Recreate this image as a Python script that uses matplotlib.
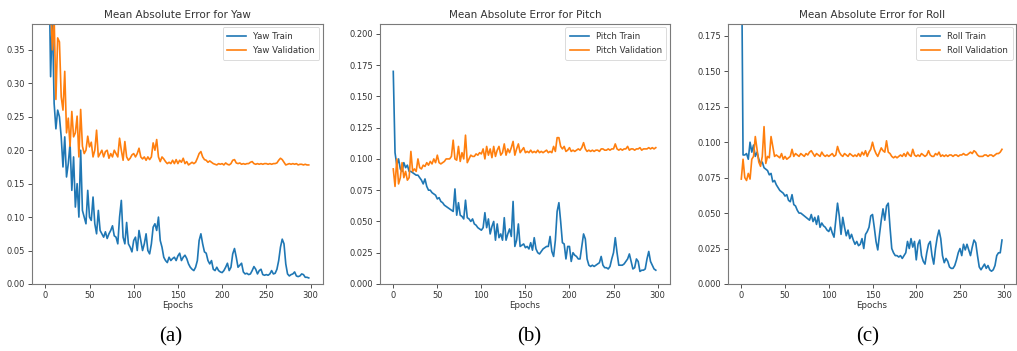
import matplotlib
matplotlib.use("Agg")
import matplotlib.pyplot as plt
from matplotlib.ticker import FormatStrFormatter, MultipleLocator

epochs = list(range(0, 300, 2))

yaw_train = [
    1.0, 0.8, 0.5, 0.31, 0.40, 0.27, 0.232, 0.26, 0.25, 0.22,
    0.175, 0.22, 0.16, 0.18, 0.21, 0.14, 0.19, 0.115, 0.15, 0.10,
    0.20, 0.11, 0.10, 0.09, 0.14, 0.10, 0.095, 0.13, 0.09, 0.075,
    0.11, 0.08, 0.075, 0.07, 0.078, 0.068, 0.075, 0.08, 0.087, 0.072,
    0.07, 0.06, 0.10, 0.125, 0.07, 0.06, 0.092, 0.06, 0.055, 0.048,
    0.065, 0.07, 0.05, 0.08, 0.065, 0.05, 0.06, 0.075, 0.05, 0.045,
    0.06, 0.085, 0.09, 0.08, 0.10, 0.065, 0.055, 0.04, 0.035, 0.032,
    0.04, 0.035, 0.038, 0.04, 0.035, 0.042, 0.046, 0.035, 0.04, 0.043,
    0.038, 0.03, 0.025, 0.022, 0.02, 0.025, 0.035, 0.065, 0.075, 0.06,
    0.048, 0.046, 0.035, 0.03, 0.035, 0.022, 0.02, 0.025, 0.02, 0.018,
    0.017, 0.02, 0.025, 0.031, 0.02, 0.025, 0.045, 0.053, 0.04, 0.025,
    0.028, 0.031, 0.018, 0.015, 0.016, 0.014, 0.015, 0.02, 0.026, 0.022,
    0.015, 0.02, 0.022, 0.014, 0.013, 0.014, 0.013, 0.015, 0.02, 0.015,
    0.016, 0.022, 0.035, 0.055, 0.067, 0.06, 0.03, 0.015, 0.012, 0.014,
    0.015, 0.018, 0.012, 0.011, 0.012, 0.015, 0.014, 0.01, 0.01, 0.009,
]
yaw_val = [
    1.0, 0.8, 0.55, 0.42, 0.35, 0.40, 0.276, 0.368, 0.362, 0.28,
    0.26, 0.318, 0.226, 0.248, 0.206, 0.258, 0.22, 0.226, 0.251, 0.19,
    0.261, 0.206, 0.195, 0.20, 0.221, 0.205, 0.212, 0.19, 0.20, 0.23,
    0.19, 0.195, 0.20, 0.19, 0.198, 0.20, 0.188, 0.195, 0.19, 0.20,
    0.195, 0.19, 0.218, 0.20, 0.185, 0.213, 0.19, 0.185, 0.188, 0.193,
    0.195, 0.19, 0.195, 0.203, 0.19, 0.187, 0.19, 0.185, 0.19, 0.186,
    0.19, 0.211, 0.20, 0.216, 0.19, 0.183, 0.19, 0.187, 0.183, 0.18,
    0.182, 0.18, 0.185, 0.18, 0.186, 0.18, 0.185, 0.182, 0.188, 0.18,
    0.183, 0.178, 0.18, 0.182, 0.18, 0.182, 0.188, 0.195, 0.198, 0.19,
    0.186, 0.185, 0.182, 0.184, 0.182, 0.18, 0.179, 0.178, 0.18, 0.179,
    0.18, 0.178, 0.181, 0.179, 0.178, 0.18, 0.185, 0.186, 0.181, 0.18,
    0.181, 0.179, 0.18, 0.179, 0.18, 0.18, 0.182, 0.183, 0.18, 0.179,
    0.18, 0.179, 0.18, 0.179, 0.18, 0.18, 0.179, 0.18, 0.179, 0.18,
    0.18, 0.181, 0.185, 0.188, 0.186, 0.182, 0.178, 0.179, 0.18, 0.179,
    0.18, 0.179, 0.18, 0.178, 0.179, 0.179, 0.178, 0.179, 0.178, 0.178,
]

pitch_train = [
    0.17, 0.105, 0.095, 0.1, 0.092, 0.09, 0.097, 0.093, 0.095, 0.09,
    0.09, 0.089, 0.088, 0.087, 0.087, 0.085, 0.083, 0.08, 0.084, 0.078,
    0.075, 0.075, 0.073, 0.072, 0.071, 0.068, 0.069, 0.066, 0.065, 0.063,
    0.062, 0.061, 0.06, 0.059, 0.058, 0.076, 0.055, 0.065, 0.055, 0.054,
    0.052, 0.067, 0.053, 0.052, 0.05, 0.052, 0.048, 0.047, 0.045, 0.044,
    0.043, 0.045, 0.057, 0.045, 0.052, 0.04, 0.046, 0.05, 0.035, 0.048,
    0.037, 0.04, 0.035, 0.053, 0.035, 0.04, 0.044, 0.038, 0.066, 0.03,
    0.035, 0.048, 0.03, 0.031, 0.032, 0.029, 0.03, 0.028, 0.033, 0.027,
    0.037, 0.028, 0.025, 0.024, 0.026, 0.028, 0.029, 0.03, 0.03, 0.038,
    0.026, 0.022, 0.035, 0.058, 0.065, 0.05, 0.033, 0.032, 0.02, 0.03,
    0.03, 0.018, 0.025, 0.023, 0.022, 0.02, 0.02, 0.03, 0.04, 0.036,
    0.02, 0.015, 0.014, 0.015, 0.014, 0.015, 0.016, 0.017, 0.022, 0.015,
    0.013, 0.013, 0.012, 0.014, 0.02, 0.025, 0.037, 0.025, 0.015, 0.015,
    0.015, 0.016, 0.018, 0.02, 0.024, 0.018, 0.012, 0.013, 0.02, 0.018,
    0.01, 0.011, 0.011, 0.012, 0.02, 0.026, 0.018, 0.015, 0.012, 0.011,
]
pitch_val = [
    0.092, 0.078, 0.1, 0.08, 0.085, 0.097, 0.085, 0.09, 0.083, 0.085,
    0.106, 0.09, 0.092, 0.09, 0.1, 0.093, 0.092, 0.095, 0.094, 0.097,
    0.095, 0.098, 0.096, 0.1, 0.097, 0.103, 0.097, 0.096, 0.097, 0.098,
    0.1, 0.1, 0.1, 0.102, 0.115, 0.1, 0.099, 0.11, 0.098, 0.105,
    0.1, 0.119, 0.097, 0.1, 0.103, 0.102, 0.102, 0.104, 0.103, 0.105,
    0.104, 0.108, 0.1, 0.11, 0.103, 0.108, 0.101, 0.11, 0.102, 0.107,
    0.11, 0.103, 0.105, 0.112, 0.103, 0.108, 0.105, 0.109, 0.114, 0.103,
    0.108, 0.112, 0.105, 0.107, 0.109, 0.105, 0.106, 0.105, 0.107, 0.105,
    0.106, 0.105, 0.107, 0.105, 0.106, 0.105, 0.106, 0.107, 0.105, 0.106,
    0.105, 0.11, 0.106, 0.117, 0.117, 0.11, 0.108, 0.11, 0.106, 0.107,
    0.109, 0.106, 0.107, 0.106, 0.107, 0.108, 0.107, 0.109, 0.113, 0.108,
    0.106, 0.107, 0.106, 0.107, 0.106, 0.107, 0.107, 0.106, 0.108, 0.108,
    0.107, 0.107, 0.108, 0.107, 0.108, 0.108, 0.112, 0.108, 0.107, 0.108,
    0.107, 0.108, 0.108, 0.11, 0.107, 0.108, 0.108, 0.107, 0.108, 0.108,
    0.109, 0.107, 0.108, 0.108, 0.108, 0.109, 0.108, 0.109, 0.108, 0.109,
]

roll_train = [
    0.26, 0.091, 0.091, 0.092, 0.088, 0.1, 0.093, 0.098, 0.09, 0.093,
    0.088, 0.085, 0.086, 0.082, 0.081, 0.08, 0.077, 0.078, 0.072, 0.073,
    0.07, 0.068, 0.066, 0.065, 0.064, 0.062, 0.063, 0.059, 0.058, 0.063,
    0.056, 0.055, 0.052, 0.05, 0.05, 0.049, 0.048, 0.047, 0.046, 0.045,
    0.049, 0.044, 0.047, 0.042, 0.048, 0.04, 0.043, 0.041, 0.04, 0.038,
    0.037, 0.04, 0.036, 0.033, 0.045, 0.057, 0.048, 0.035, 0.047, 0.04,
    0.034, 0.038, 0.032, 0.035, 0.031, 0.028, 0.03, 0.027, 0.028, 0.032,
    0.025, 0.035, 0.037, 0.04, 0.048, 0.049, 0.04, 0.03, 0.024, 0.035,
    0.045, 0.053, 0.045, 0.055, 0.057, 0.04, 0.025, 0.022, 0.02, 0.02,
    0.019, 0.02, 0.018, 0.02, 0.022, 0.03, 0.025, 0.032, 0.026, 0.03,
    0.017, 0.028, 0.031, 0.02, 0.016, 0.014, 0.022, 0.028, 0.03, 0.02,
    0.014, 0.025, 0.033, 0.038, 0.032, 0.02, 0.015, 0.018, 0.016, 0.012,
    0.011, 0.011, 0.013, 0.017, 0.022, 0.025, 0.02, 0.028, 0.024, 0.028,
    0.024, 0.02, 0.026, 0.031, 0.029, 0.02, 0.012, 0.01, 0.012, 0.014,
    0.011, 0.013, 0.01, 0.009, 0.01, 0.013, 0.02, 0.022, 0.022, 0.031,
]
roll_val = [
    0.074, 0.088, 0.075, 0.073, 0.078, 0.074, 0.088, 0.09, 0.104, 0.095,
    0.086, 0.083, 0.09, 0.111, 0.085, 0.09, 0.089, 0.104, 0.097, 0.09,
    0.091, 0.09, 0.089, 0.092, 0.088, 0.09, 0.088, 0.089, 0.09, 0.095,
    0.09, 0.092, 0.091, 0.09, 0.092, 0.091, 0.09, 0.092, 0.091, 0.093,
    0.094, 0.092, 0.09, 0.092, 0.091, 0.09, 0.093, 0.091, 0.09, 0.091,
    0.09, 0.091, 0.092, 0.09, 0.091, 0.097, 0.093, 0.091, 0.09, 0.092,
    0.091, 0.09, 0.092, 0.091, 0.09, 0.091, 0.09, 0.092, 0.09, 0.093,
    0.091, 0.094, 0.09, 0.093, 0.095, 0.1, 0.095, 0.092, 0.09, 0.093,
    0.096, 0.094, 0.093, 0.101, 0.093, 0.092, 0.09, 0.089, 0.09, 0.089,
    0.09, 0.091, 0.09, 0.092, 0.09, 0.093, 0.091, 0.09, 0.095, 0.091,
    0.09, 0.091, 0.09, 0.092, 0.091, 0.09, 0.091, 0.094, 0.091, 0.09,
    0.09, 0.092, 0.091, 0.093, 0.09, 0.091, 0.09, 0.091, 0.09, 0.091,
    0.091, 0.09, 0.091, 0.091, 0.09, 0.091, 0.091, 0.092, 0.091, 0.091,
    0.092, 0.093, 0.092, 0.094, 0.093, 0.091, 0.09, 0.09, 0.09, 0.091,
    0.091, 0.09, 0.091, 0.091, 0.09, 0.091, 0.092, 0.092, 0.093, 0.095,
]

panels = [
    ("Yaw", yaw_train, yaw_val, 0.389, 0.05, "%.2f", "(a)"),
    ("Pitch", pitch_train, pitch_val, 0.208, 0.025, "%.3f", "(b)"),
    ("Roll", roll_train, roll_val, 0.1835, 0.025, "%.3f", "(c)"),
]

fig = plt.figure(figsize=(10.17, 3.51), dpi=100)
lefts = [0.0315, 0.3737, 0.7160]
widths = [0.286, 0.285, 0.283]
caption_x = [0.168, 0.520, 0.853]
text_col = "#333333"
spine_col = "#7a7a7a"

for i, (name, tr, va, ytop, ystep, fmt, cap) in enumerate(panels):
    ax = fig.add_axes([lefts[i], 0.191, widths[i], 0.741])
    ax.plot(epochs, tr, color="#1f77b4", lw=1.2, label=f"{name} Train")
    ax.plot(epochs, va, color="#ff7f0e", lw=1.2, label=f"{name} Validation")
    ax.set_xlim(-15, 314)
    ax.set_ylim(0, ytop)
    ax.yaxis.set_major_locator(MultipleLocator(ystep))
    ax.yaxis.set_major_formatter(FormatStrFormatter(fmt))
    ax.xaxis.set_major_locator(MultipleLocator(50))
    ax.tick_params(labelsize=6, length=3, pad=2, colors=text_col, width=0.6)
    for s in ax.spines.values():
        s.set_color(spine_col)
        s.set_linewidth(0.8)
    ax.set_title(f"Mean Absolute Error for {name}", fontsize=7.5, color=text_col, pad=4)
    ax.set_xlabel("Epochs", fontsize=6.2, color=text_col, labelpad=1)
    leg = ax.legend(loc="upper right", fontsize=6.2, frameon=True, handlelength=2.2,
                    borderpad=0.55, labelspacing=0.6, borderaxespad=0.4)
    leg.get_frame().set_edgecolor("#cccccc")
    leg.get_frame().set_linewidth(0.6)
    for t in leg.get_texts():
        t.set_color(text_col)
    fig.text(caption_x[i], 0.04, cap, ha="center", va="center",
             fontsize=15, family="Liberation Serif", color="black")

fig.savefig("out.png", dpi=100)
